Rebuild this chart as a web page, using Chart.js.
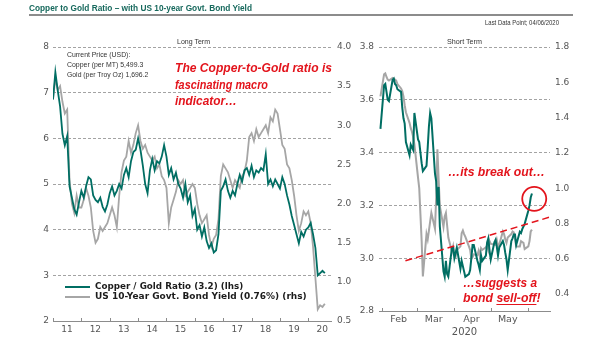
<!DOCTYPE html>
<html><head><meta charset="utf-8">
<script src="https://cdn.jsdelivr.net/npm/chart.js@4.4.1/dist/chart.umd.min.js"></script>
<style>
html,body{margin:0;padding:0;background:#fff;}
#wrap{position:relative;width:605px;height:341px;overflow:hidden;background:#fff;}
canvas{position:absolute;left:0;top:0;}
.t{position:absolute;white-space:nowrap;line-height:1;display:inline-block;z-index:5;}
.red{color:#e3141c;font-family:"Liberation Sans Narrow","Liberation Sans",Arial,sans-serif;font-weight:bold;font-style:italic;}
.ul{text-decoration:underline;text-decoration-thickness:1px;text-underline-offset:1.5px;}
.sw{position:absolute;z-index:5;}
#title{color:#17695d;font-family:"Liberation Sans Narrow","Liberation Sans",Arial,sans-serif;font-weight:bold;}
#rule{position:absolute;left:29px;top:14px;width:544px;height:1.5px;background:#8c8c8c;}
.small{color:#333;font-family:"Liberation Sans Narrow","Liberation Sans",Arial,sans-serif;}
.lgt{color:#1c1c1c;font-family:"DejaVu Sans",sans-serif;font-weight:bold;}
</style></head><body>
<div id="wrap">
<canvas id="lt" width="605" height="341"></canvas>
<canvas id="st" width="605" height="341"></canvas>
<div class="t" id="title">Copper to Gold Ratio – with US 10-year Govt. Bond Yield</div>
<div id="rule"></div>
<div class="t small" id="ldp">Last Data Point; 04/06/2020</div>
<div class="t small" id="ltLabel">Long Term</div>
<div class="t small" id="stLabel">Short Term</div>
<div class="t small" id="cp1">Current Price (USD):</div>
<div class="t small" id="cp2">Copper (per MT) 5,499.3</div>
<div class="t small" id="cp3">Gold (per Troy Oz) 1,696.2</div>
<div class="t red" id="a1">The Copper-to-Gold ratio is</div>
<div class="t red" id="a2">fascinating macro</div>
<div class="t red" id="a3">indicator…</div>
<div class="t red" id="a4">…its break out…</div>
<div class="t red" id="a5">…suggests a</div>
<div class="t red" id="a6">bond <span class="ul">sell-off</span>!</div>
<div class="sw" id="lg1sw"></div><div class="t lgt" id="lg1">Copper / Gold Ratio (3.2) (lhs)</div>
<div class="sw" id="lg2sw"></div><div class="t lgt" id="lg2">US 10-Year Govt. Bond Yield (0.76%) (rhs)</div>
</div>
<script>
const TEAL='#006e63', GRAY='#a6a6a6', RED='#e3141c', GRID='#a3a3a3', AXIS='#8c8c8c', TICK='#555555';

// ---------- Long term (monthly, Jan 2011 onward) ----------
const ltStartYear = 2011;
const ltTickYears = [2011,2012,2013,2014,2015,2016,2017,2018,2019,2020];
const ltTickLabels = ['11','12','13','14','15','16','17','18','19','20'];
const ltLeftTicks = [2,3,4,5,6,7,8];
const ltRightTicks = [0.5,1.0,1.5,2.0,2.5,3.0,3.5,4.0];
const ltCopperGold = [
 6.85,7.45,7.05,6.7,6.1,5.85,6.05,4.95,4.7,4.45,4.33,4.6,
 4.85,4.7,4.95,5.15,5.1,4.75,4.65,4.6,4.7,4.5,4.4,4.55,
 4.8,4.95,4.75,4.85,5.0,4.9,5.2,5.35,5.15,5.5,5.7,5.75,
 6.0,5.75,5.4,5.0,4.8,5.3,5.55,5.3,5.5,5.45,5.6,5.85,
 5.6,5.2,5.35,5.1,5.25,5.0,4.9,4.7,5.0,4.6,4.75,4.3,
 4.45,4.0,4.1,3.85,4.05,3.75,3.6,3.7,3.5,3.55,3.9,4.85,
 4.95,5.1,4.85,4.7,4.85,4.75,5.0,5.2,5.05,5.3,5.35,5.2,
 5.4,5.15,5.3,5.25,5.35,5.3,5.65,5.0,5.1,4.95,5.1,5.0,
 4.9,5.15,5.0,4.75,4.55,4.3,4.1,3.9,3.7,3.95,3.85,4.0,
 4.05,4.15,3.9,3.6,3.0,3.05,3.1,3.05
];
const ltYield = [
 3.33,3.6,3.45,3.5,3.3,3.15,3.2,2.3,2.0,1.88,2.1,1.95,
 1.95,2.05,2.2,2.1,1.95,1.65,1.5,1.55,1.7,1.65,1.7,1.75,
 1.85,1.95,1.85,1.7,2.1,2.4,2.55,2.6,2.8,2.65,2.75,2.9,
 3.0,2.8,2.7,2.75,2.65,2.6,2.55,2.6,2.45,2.5,2.35,2.3,
 2.2,1.75,1.95,2.05,2.15,2.3,2.25,2.3,2.1,2.15,2.2,2.25,
 2.2,2.0,1.85,1.75,1.8,1.85,1.6,1.45,1.55,1.6,1.8,2.35,
 2.5,2.45,2.4,2.3,2.2,2.3,2.25,2.2,2.35,2.4,2.55,2.85,
 2.9,2.8,2.95,2.85,2.9,2.95,3.0,2.9,3.1,3.05,3.2,3.15,
 2.95,2.75,2.7,2.5,2.45,2.3,2.1,1.85,1.65,1.75,1.9,1.85,
 1.9,1.75,1.45,1.05,0.65,0.7,0.68,0.72
];
const ltX = ltCopperGold.map((_, i) => ltStartYear + i / 12);

// ---------- Short term (daily, business days 31 Jan – 4 Jun 2020) ----------
const stMonthTicks = [0,29,60,90,121];           // days from 1 Feb 2020
const stMonthLabels = ['Feb','Mar','Apr','May',''];
const stLeftTicks = [2.8,3.0,3.2,3.4,3.6,3.8];
const stRightTicks = [0.4,0.6,0.8,1.0,1.2,1.4,1.6,1.8];
const stCopperGold = [
 3.49,
 3.655,3.66,3.63,3.60,3.595, 3.675,3.68,3.66,3.655,3.64, 3.63,3.57,3.53,3.51,3.44, 3.39,3.43,3.42,3.41,3.55,
 3.45,3.44,3.40,3.36,3.33, 3.35,3.42,3.50,3.55,3.53, 3.32,3.29,3.20,3.27,3.12, 2.95,2.93,2.99,2.94,2.93, 3.04,3.04,
 3.00,3.02,3.04, 2.96,2.99,2.97,2.95,2.93, 2.94,2.955,3.00,3.05,3.05, 2.99,2.975,2.955,3.01,2.99, 3.01,3.06,3.075,3.03,
 2.995, 3.06,3.07,3.044,3.01,3.04, 3.065,3.05,3.02,2.995,2.955, 3.065,3.075,3.09,3.09,3.05, 3.10,3.095,3.11,3.12,3.13,
 3.18,3.20,3.23,3.245
];
const stYield = [
 1.52,
 1.645,1.65,1.63,1.615,1.61, 1.625,1.62,1.615,1.61,1.59, 1.565,1.55,1.52,1.47,1.43, 1.37,1.34,1.32,1.29,1.25,
 1.06,1.0,0.85,0.70,0.50, 0.74,0.71,0.76,0.81,0.86, 0.77,0.95,1.22,1.05,0.90, 0.78,0.84,0.86,0.79,0.72, 0.64,0.67,
 0.62,0.61,0.65, 0.67,0.745,0.76,0.74,0.725, 0.67,0.65,0.60,0.61,0.625, 0.62,0.645,0.615,0.66,0.65, 0.665,0.675,0.65,0.70,
 0.685, 0.68,0.68,0.707,0.67,0.68, 0.755,0.74,0.71,0.69,0.72, 0.74,0.755,0.75,0.716,0.67, 0.67,0.70,0.695,0.69,0.655,
 0.67,0.70,0.755,0.765
];
const stTrendX = [19.6, 140.3];
const stTrendY = [2.99, 3.158];
const stCircleX = [125.9];
const stCircleY = [3.225];

// business-day calendar for the short-term series
const DAY = 86400000, FEB1 = Date.UTC(2020,1,1);
const stDays = [];
for (let t = Date.UTC(2020,0,31); t <= Date.UTC(2020,5,4); t += DAY) {
  const wd = new Date(t).getUTCDay();
  if (wd > 0 && wd < 6) stDays.push((t - FEB1) / DAY);
}

Chart.defaults.font.family = 'DejaVu Sans';
Chart.defaults.color = TICK;

const tickMarks = {
  id: 'tickMarks',
  afterDraw(chart) {
    const s = chart.scales.x, ctx = chart.ctx;
    ctx.save();
    ctx.strokeStyle = AXIS; ctx.lineWidth = 1;
    s.ticks.forEach(t => {
      const x = Math.round(s.getPixelForValue(t.value)) + 0.5;
      ctx.beginPath(); ctx.moveTo(x, s.top - 3); ctx.lineTo(x, s.top + 1); ctx.stroke();
    });
    ctx.restore();
  }
};

function setTicks(arr) { return s => { s.ticks = arr.map(v => ({value: v})); }; }
function gridColor(min) { return c => (c.tick && Math.abs(c.tick.value - min) < 1e-6) ? 'rgba(0,0,0,0)' : GRID; }
const tickFont = {family: 'DejaVu Sans', size: 9};

// ---------- Long-term chart ----------
new Chart(document.getElementById('lt'), {
  type: 'line',
  data: {
    datasets: [
      {label: 'Copper / Gold Ratio (3.2) (lhs)', data: ltX.map((x, i) => ({x, y: ltCopperGold[i]})),
       yAxisID: 'y', borderColor: TEAL, borderWidth: 1.8, pointRadius: 0, tension: 0},
      {label: 'US 10-Year Govt. Bond Yield (0.76%) (rhs)', data: ltX.map((x, i) => ({x, y: ltYield[i]})),
       yAxisID: 'y1', borderColor: GRAY, borderWidth: 1.8, pointRadius: 0, tension: 0}
    ]
  },
  options: {
    responsive: false, animation: false, devicePixelRatio: 1,
    layout: {padding: {left: 0, right: 240, top: 47, bottom: 0}},
    plugins: {legend: {display: false}, tooltip: {enabled: false}},
    scales: {
      x: {type: 'linear', min: 2011, max: 2020.8,
          afterBuildTicks: setTicks(ltTickYears),
          ticks: {callback: (v, i) => ltTickLabels[i], labelOffset: 14, padding: 3.5, font: tickFont, color: TICK, maxRotation: 0, autoSkip: false},
          grid: {display: true, drawOnChartArea: false, drawTicks: false},
          border: {display: true, color: AXIS, width: 1},
          afterFit: s => { s.height = 20; }},
      y: {position: 'left', min: 2, max: 8,
          afterBuildTicks: setTicks(ltLeftTicks),
          ticks: {callback: v => String(v), padding: 4, font: tickFont, color: TICK},
          grid: {color: gridColor(2), lineWidth: 1, drawTicks: false, borderDash: [3, 2]},
          border: {display: false, dash: [3, 2]},
          afterFit: s => { s.width = 53; }},
      y1: {position: 'right', min: 0.5, max: 4.0,
          afterBuildTicks: setTicks(ltRightTicks),
          ticks: {callback: v => v.toFixed(1), padding: 6, font: tickFont, color: TICK},
          grid: {display: false, drawTicks: false},
          border: {display: false},
          afterFit: s => { s.width = 34; }}
    }
  },
  plugins: [tickMarks]
});

// ---------- Short-term chart ----------
new Chart(document.getElementById('st'), {
  type: 'line',
  data: {
    datasets: [
      {label: 'circle', data: stCircleX.map((x, i) => ({x, y: stCircleY[i]})), yAxisID: 'y',
       showLine: false, pointRadius: 12, pointBorderWidth: 1.8, pointBorderColor: RED,
       pointBackgroundColor: 'rgba(0,0,0,0)', clip: false},
      {label: 'trend', data: stTrendX.map((x, i) => ({x, y: stTrendY[i]})), yAxisID: 'y',
       borderColor: RED, borderWidth: 1.5, borderDash: [7, 4], pointRadius: 0, clip: false},
      {label: 'Copper / Gold Ratio', data: stDays.map((x, i) => ({x, y: stCopperGold[i]})),
       yAxisID: 'y', borderColor: TEAL, borderWidth: 2, pointRadius: 0, tension: 0},
      {label: 'US 10-Year Govt. Bond Yield', data: stDays.map((x, i) => ({x, y: stYield[i]})),
       yAxisID: 'y1', borderColor: GRAY, borderWidth: 2, pointRadius: 0, tension: 0}
    ]
  },
  options: {
    responsive: false, animation: false, devicePixelRatio: 1,
    layout: {padding: {left: 340, right: 15, top: 47, bottom: 0}},
    plugins: {legend: {display: false}, tooltip: {enabled: false}},
    scales: {
      x: {type: 'linear', min: -2.2, max: 138.9,
          afterBuildTicks: setTicks(stMonthTicks),
          ticks: {callback: (v, i) => stMonthLabels[i], labelOffset: 17, padding: 3, font: {family: 'DejaVu Sans', size: 9.5}, color: TICK, maxRotation: 0, autoSkip: false},
          grid: {display: true, drawOnChartArea: false, drawTicks: false},
          border: {display: true, color: AXIS, width: 1},
          title: {display: true, text: '2020', color: TICK, font: {family: 'DejaVu Sans', size: 10}, padding: {top: 0, bottom: 3}},
          afterFit: s => { s.height = 30; }},
      y: {position: 'left', min: 2.8, max: 3.8,
          afterBuildTicks: setTicks(stLeftTicks),
          ticks: {callback: v => v.toFixed(1), padding: 5, font: tickFont, color: TICK},
          grid: {color: gridColor(2.8), lineWidth: 1, drawTicks: false, borderDash: [3, 2]},
          border: {display: false, dash: [3, 2]},
          afterFit: s => { s.width = 39; }},
      y1: {position: 'right', min: 0.304, max: 1.8,
          afterBuildTicks: setTicks(stRightTicks),
          ticks: {callback: v => v.toFixed(1), padding: 5, font: tickFont, color: TICK},
          grid: {display: false, drawTicks: false},
          border: {display: false},
          afterFit: s => { s.width = 40; }}
    }
  },
  plugins: [tickMarks]
});

// ---------- text placement ----------
function place(id, o) {
  const el = document.getElementById(id);
  el.style.fontSize = o.fs + 'px';
  el.style.top = (o.base - 0.85 * o.fs) + 'px';
  el.style.transform = 'none';
  const w = el.getBoundingClientRect().width;
  const k = o.w ? o.w / w : 1;
  const tw = o.w || w;
  let left;
  if (o.left !== undefined) left = o.left;
  else if (o.right !== undefined) left = o.right - tw;
  else left = o.center - tw / 2;
  el.style.left = left + 'px';
  el.style.transformOrigin = '0 0';
  el.style.transform = 'scaleX(' + k + ')';
}
function sw(id, left, top, w, h, c) {
  const el = document.getElementById(id);
  Object.assign(el.style, {left: left + 'px', top: top + 'px', width: w + 'px', height: h + 'px', background: c});
}
function layoutText() {
  place('title', {left: 29, base: 10.8, fs: 9.5, w: 223});
  place('ldp', {right: 559, base: 25.8, fs: 6.5, w: 74});
  place('ltLabel', {center: 193, base: 44.4, fs: 8, w: 33});
  place('stLabel', {center: 464.5, base: 44.4, fs: 8, w: 35});
  place('cp1', {left: 66.7, base: 57, fs: 7.5, w: 63.3});
  place('cp2', {left: 66.7, base: 67, fs: 7.5, w: 76.3});
  place('cp3', {left: 66.7, base: 77, fs: 7.5, w: 81.3});
  place('a1', {left: 175, base: 72.5, fs: 13, w: 157});
  place('a2', {left: 175, base: 89, fs: 13, w: 93});
  place('a3', {left: 175, base: 105.3, fs: 13, w: 62});
  place('a4', {left: 448, base: 176, fs: 12, w: 97});
  place('a5', {left: 462.7, base: 287, fs: 12, w: 74});
  place('a6', {left: 462.7, base: 302.5, fs: 12, w: 77.5});
  place('lg1', {left: 95, base: 289.4, fs: 8.5, w: 148.3});
  place('lg2', {left: 95, base: 299.4, fs: 8.5, w: 211.7});
  sw('lg1sw', 65, 286.2, 25, 2.2, TEAL);
  sw('lg2sw', 65, 296.2, 25, 2.2, GRAY);
}
layoutText();
if (document.fonts && document.fonts.ready) document.fonts.ready.then(layoutText);
</script>
</body></html>
